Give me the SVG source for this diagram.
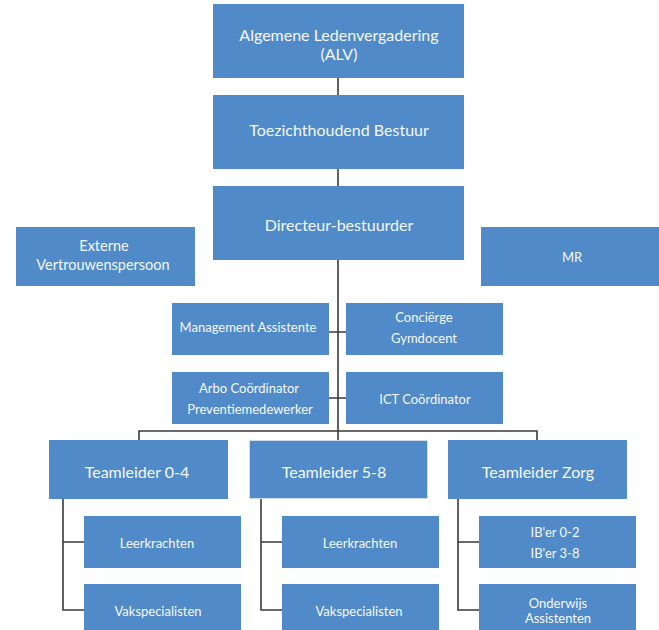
<svg xmlns="http://www.w3.org/2000/svg" width="659" height="630" viewBox="0 0 659 630">
<style>
.box{fill:#508AC8;}
.t{font-family:Lato,"Liberation Sans",sans-serif;fill:#F5F8FC;text-anchor:middle;}
.big{font-size:16px;}
.mid{font-size:14.5px;}
.sm{font-size:13px;}
.ln{stroke:#3a3a3a;stroke-width:1.6;fill:none;}
</style>
<rect width="659" height="630" fill="#ffffff"/>
<g id="connectors">
<path class="ln" d="M338,78V95M338,169V186M338,260V431M329,332H346M329,398H346M139,440V431H537V440M338,431V440"/>
<path class="ln" d="M63,499V610H84M63,542H84M261,499V610H282M261,542H282M458,499V610H479M458,542H479"/>
</g>
<g id="alv"><rect class="box" x="213" y="4" width="251" height="74"/><text class="t big" x="339" y="41">Algemene Ledenvergadering</text><text class="t big" x="339" y="60">(ALV)</text></g>
<g id="tb"><rect class="box" x="213" y="95" width="251" height="74"/><text class="t big" x="339" y="136">Toezichthoudend Bestuur</text></g>
<g id="dir"><rect class="box" x="213" y="186" width="251" height="74"/><text class="t big" x="339" y="231">Directeur-bestuurder</text></g>
<g id="evp"><rect class="box" x="16" y="227" width="179" height="59"/><text class="t mid" x="104" y="251">Externe</text><text class="t mid" x="103" y="270">Vertrouwenspersoon</text></g>
<g id="mr"><rect class="box" x="481" y="227" width="178" height="59"/><text class="t sm" x="572" y="262">MR</text></g>
<g id="ma"><rect class="box" x="172" y="303" width="157" height="52"/><text class="t sm" x="248" y="332">Management Assistente</text></g>
<g id="cg"><rect class="box" x="346" y="303" width="157" height="52"/><text class="t sm" x="424" y="322">Conciërge</text><text class="t sm" x="424" y="343">Gymdocent</text></g>
<g id="arbo"><rect class="box" x="172" y="372" width="157" height="52"/><text class="t sm" x="249" y="393">Arbo Coördinator</text><text class="t sm" x="250" y="414">Preventiemedewerker</text></g>
<g id="ict"><rect class="box" x="346" y="372" width="157" height="52"/><text class="t sm" x="425" y="404">ICT Coördinator</text></g>
<g id="tl04"><rect class="box" x="49" y="440" width="179" height="59"/><text class="t big" x="137" y="478">Teamleider 0-4</text></g>
<g id="tl58"><rect class="box" x="249.5" y="440.5" width="178" height="58" stroke="#cfdcee" stroke-width="1"/><text class="t big" x="334" y="478">Teamleider 5-8</text></g>
<g id="tlz"><rect class="box" x="448" y="440" width="179" height="59"/><text class="t big" x="538" y="478">Teamleider Zorg</text></g>
<g id="lk1"><rect class="box" x="84" y="516" width="157" height="52"/><text class="t sm" x="157" y="548">Leerkrachten</text></g>
<g id="vs1"><rect class="box" x="84" y="584" width="157" height="52"/><text class="t sm" x="158" y="616">Vakspecialisten</text></g>
<g id="lk2"><rect class="box" x="282" y="516" width="157" height="52"/><text class="t sm" x="360" y="548">Leerkrachten</text></g>
<g id="vs2"><rect class="box" x="282" y="584" width="157" height="52"/><text class="t sm" x="359" y="616">Vakspecialisten</text></g>
<g id="ib"><rect class="box" x="479" y="516" width="157" height="52"/><text class="t sm" x="555" y="537">IB'er 0-2</text><text class="t sm" x="555" y="558">IB'er 3-8</text></g>
<g id="oa"><rect class="box" x="479" y="584" width="157" height="52"/><text class="t sm" x="558" y="608">Onderwijs</text><text class="t sm" x="558" y="623">Assistenten</text></g>
</svg>
